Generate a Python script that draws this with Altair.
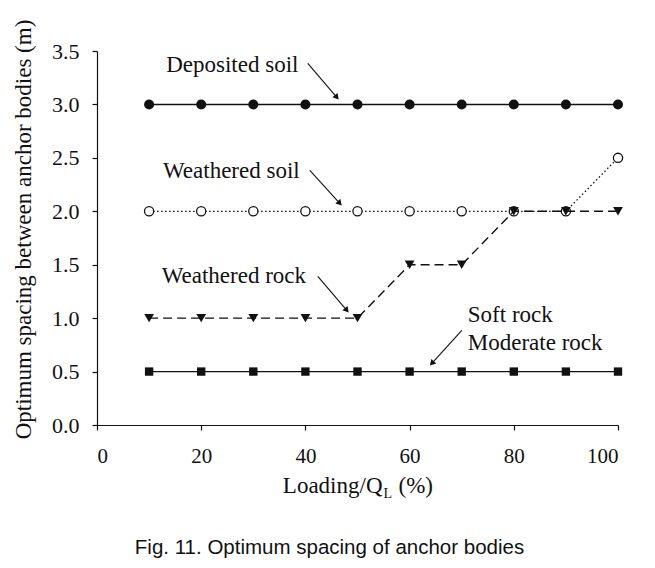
import math
import altair as alt
import pandas as pd

# ---- data ----
loading = [10, 20, 30, 40, 50, 60, 70, 80, 90, 100]
deposited_soil = [3.0, 3.0, 3.0, 3.0, 3.0, 3.0, 3.0, 3.0, 3.0, 3.0]
weathered_soil = [2.0, 2.0, 2.0, 2.0, 2.0, 2.0, 2.0, 2.0, 2.0, 2.5]
weathered_rock = [1.0, 1.0, 1.0, 1.0, 1.0, 1.5, 1.5, 2.0, 2.0, 2.0]
soft_moderate_rock = [0.5, 0.5, 0.5, 0.5, 0.5, 0.5, 0.5, 0.5, 0.5, 0.5]

x_ticks = [0, 20, 40, 60, 80, 100]
y_ticks = [0.0, 0.5, 1.0, 1.5, 2.0, 2.5, 3.0, 3.5]

label_text = ["Deposited soil", "Weathered soil", "Weathered rock", "Soft rock", "Moderate rock"]
label_x = [25.97, 25.78, 26.26, 71.17, 71.17]
label_y = [3.30, 2.309, 1.326, 0.961, 0.699]
label_align = ["center", "center", "center", "left", "left"]

arrow_x1 = [40.46, 40.85, 42.38, 70.02]
arrow_y1 = [3.385, 2.383, 1.391, 0.886]
arrow_x2 = [46.03, 46.60, 47.95, 64.27]
arrow_y2 = [3.067, 2.075, 1.073, 0.577]

y_title = "Optimum spacing between anchor bodies (m)"
caption = "Fig. 11. Optimum spacing of anchor bodies"

W, H = 521, 374
SERIF = "Liberation Serif"
INK = "#111111"

xs = alt.Scale(domain=[0, 100], nice=False, zero=False)
ys = alt.Scale(domain=[0, 3.5], nice=False, zero=False)

X = alt.X("x:Q", scale=xs, title=None,
          axis=alt.Axis(values=x_ticks, format="d", labelPadding=15))
Y = alt.Y("y:Q", scale=ys, title=y_title,
          axis=alt.Axis(values=y_ticks, format=".1f", labelPadding=13,
                        labelFontSize=22, titlePadding=16, titleFontSize=23,
                        titleY=178))


def series(vals):
    return pd.DataFrame({"x": loading, "y": vals})


def line_layer(vals, dash, width):
    kw = dict(color=INK, strokeWidth=width)
    if dash:
        kw["strokeDash"] = dash
    return alt.Chart(series(vals)).mark_line(**kw).encode(x=X, y=Y)


def point_layer(vals, shape, size, filled):
    return alt.Chart(series(vals)).mark_point(
        shape=shape, size=size, filled=filled, color=INK,
        fill=INK if filled else "white", fillOpacity=1, opacity=1,
        strokeWidth=1.3 if not filled else 0.5
    ).encode(x=X, y=Y)


layers = [
    line_layer(soft_moderate_rock, None, 1.3),
    point_layer(soft_moderate_rock, "square", 70, True),
    line_layer(weathered_soil, [1.5, 2.5], 1.3),
    point_layer(weathered_soil, "circle", 85, False),
    line_layer(weathered_rock, [9, 5], 1.4),
    point_layer(weathered_rock, "triangle-down", 95, True),
    line_layer(deposited_soil, None, 1.5),
    point_layer(deposited_soil, "circle", 100, True),
]

# annotation labels
lab_df = pd.DataFrame({"x": label_x, "y": label_y, "t": label_text, "a": label_align})
for al in ["center", "left"]:
    layers.append(
        alt.Chart(lab_df[lab_df["a"] == al]).mark_text(
            font=SERIF, fontSize=23, color=INK, align=al, baseline="alphabetic"
        ).encode(x=X, y=Y, text="t:N")
    )

# arrows
px_per_x = W / 100.0
px_per_y = H / 3.5
angles = []
for a, b, c, d in zip(arrow_x1, arrow_y1, arrow_x2, arrow_y2):
    dx = (c - a) * px_per_x
    dy = -(d - b) * px_per_y
    angles.append(math.degrees(math.atan2(dx, -dy)) % 360)
arr_df = pd.DataFrame({"x": arrow_x1, "y": arrow_y1, "xe": arrow_x2, "ye": arrow_y2,
                       "ang": angles})
layers.append(
    alt.Chart(arr_df).mark_rule(color=INK, strokeWidth=1.1).encode(
        x=X, y=Y, x2="xe:Q", y2="ye:Q")
)
layers.append(
    alt.Chart(arr_df).mark_point(shape="triangle-up", size=45, filled=True,
                                 color=INK, fill=INK, opacity=1, strokeWidth=0).encode(
        x=alt.X("xe:Q", scale=xs, title=None),
        y=alt.Y("ye:Q", scale=ys, title=y_title),
        angle=alt.Angle("ang:Q", scale=None))
)

# x-axis title with subscript, and caption
cx = W / 2.0
layers.append(alt.Chart(pd.DataFrame({"t": ["Loading/Q"]})).mark_text(
    font=SERIF, fontSize=23, color=INK, align="right", baseline="alphabetic"
).encode(x=alt.value(cx + 25), y=alt.value(H + 68), text="t:N"))
layers.append(alt.Chart(pd.DataFrame({"t": ["L"]})).mark_text(
    font=SERIF, fontSize=14, color=INK, align="left", baseline="alphabetic"
).encode(x=alt.value(cx + 26), y=alt.value(H + 73), text="t:N"))
layers.append(alt.Chart(pd.DataFrame({"t": ["(%)"]})).mark_text(
    font=SERIF, fontSize=23, color=INK, align="left", baseline="alphabetic"
).encode(x=alt.value(cx + 41), y=alt.value(H + 68), text="t:N"))
layers.append(alt.Chart(pd.DataFrame({"t": [caption]})).mark_text(
    font="Liberation Sans", fontSize=20.5, color=INK, align="center", baseline="alphabetic"
).encode(x=alt.value(cx - 28), y=alt.value(H + 129), text="t:N"))

chart = alt.layer(*layers).properties(
    width=W, height=H,
    autosize=alt.AutoSizeParams(type="none"),
    padding={"left": 89, "top": 43, "right": 25, "bottom": 140},
    background="white",
).configure_view(stroke=None).configure_axis(
    grid=False, domainColor=INK, tickColor=INK, domainWidth=1.2, tickWidth=1.2,
    tickSize=5, labelFont=SERIF, labelFontSize=21, labelColor=INK,
    titleFont=SERIF, titleFontWeight="normal", titleColor=INK,
)

chart.save("out.html", embed_options={"renderer": "svg", "actions": False})
